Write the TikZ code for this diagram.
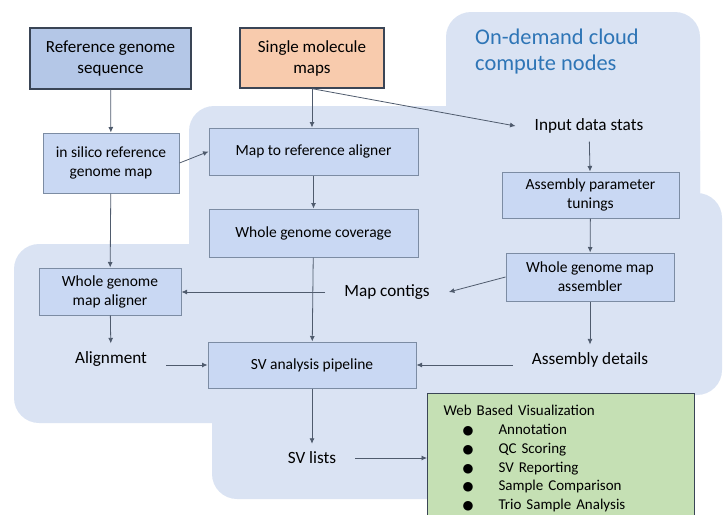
\documentclass[tikz,border=0pt]{standalone}
\usepackage{fontspec}
\setmainfont{Carlito}
\newfontfamily\dotfont{DejaVu Sans}
\usetikzlibrary{arrows.meta}
\definecolor{cloudbg}{HTML}{DAE3F3}
\definecolor{boxfill}{HTML}{C9D8F3}
\definecolor{boxline}{HTML}{7C8CA3}
\definecolor{topfill}{HTML}{B4C7E7}
\definecolor{topline}{HTML}{3A4556}
\definecolor{smmfill}{HTML}{F8CBAD}
\definecolor{vizfill}{HTML}{C5E0B4}
\definecolor{arrowcol}{HTML}{4F5B6D}
\definecolor{cloudtext}{HTML}{2E75B6}
\newcommand{\vizitem}[1]{\makebox[30pt][r]{{\dotfont\fontsize{12.5}{15}\selectfont ●}}\hspace{25pt}#1}
\begin{document}
\begin{tikzpicture}[x=1pt, y=-1pt,
    box/.style={draw=boxline, fill=boxfill, line width=1pt, align=center,
        inner sep=0pt, font=\fontsize{15.5}{19}\selectfont},
    topbox/.style={box, draw=topline, fill=topfill, line width=1.3pt, font=\fontsize{17}{21}\selectfont},
    lbl/.style={font=\fontsize{17.2}{20}\selectfont, inner xsep=19pt, inner ysep=8pt},
    arr/.style={draw=arrowcol, line width=0.8pt, -{Latex[length=5.5pt,width=5pt]}}]
    \clip (0,0) rectangle (727,514);

    % cloud area
    \fill[cloudbg, rounded corners=25pt] (446,12) rectangle (700,300);
    \fill[cloudbg, rounded corners=25pt] (189,106) rectangle (700,300);
    \fill[cloudbg, rounded corners=25pt] (300,193) rectangle (722,395);
    \fill[cloudbg, rounded corners=25pt] (14,244) rectangle (600,423);
    \fill[cloudbg, rounded corners=25pt] (212,300) rectangle (600,499);
    \node[anchor=north west, align=left, text=cloudtext, inner sep=0pt,
        font=\fontsize{22.4}{26}\selectfont] (cloud) at (475,29) {On-demand cloud\\compute nodes};

    % inputs
    \node[topbox, minimum width=161pt, minimum height=61pt] (refseq) at (110.5,58.5) {Reference genome\\sequence};
    \node[topbox, fill=smmfill, minimum width=144pt, minimum height=60pt] (smm) at (312,58) {Single molecule\\maps};

    % boxes
    \node[box, minimum width=136pt, minimum height=60pt] (insilico) at (111,163) {in silico reference\\genome map};
    \node[box, minimum width=209pt, minimum height=47pt] (mapref) at (313.5,151.5) {Map to reference aligner};
    \node[box, minimum width=209pt, minimum height=48pt] (wgc) at (313.5,233) {Whole genome coverage};
    \node[box, minimum width=177pt, minimum height=46pt] (apt) at (590.5,195) {Assembly parameter\\tunings};
    \node[box, minimum width=142pt, minimum height=47pt] (wgmal) at (110,291.5) {Whole genome\\map aligner};
    \node[box, minimum width=168pt, minimum height=48pt] (wgmas) at (590,277) {Whole genome map\\assembler};
    \node[box, minimum width=208pt, minimum height=46pt] (svp) at (312,365) {SV analysis pipeline};

    % labels
    \node[lbl] (stats) at (589,126) {Input data stats};
    \node[lbl] (contigs) at (387,292) {Map contigs};
    \node[lbl] (align) at (111,359) {Alignment};
    \node[lbl] (asmdet) at (590,360) {Assembly details};
    \node[lbl] (svlists) at (312,458) {SV lists};

    % visualization
    \node[draw=topline, fill=vizfill, line width=1pt, anchor=north west, align=left,
        text width=235pt, inner xsep=16pt, inner ysep=12pt,
        font=\fontsize{15}{18.7}\selectfont] (viz) at (427,393)
        {Web Based Visualization\\
         \vizitem{Annotation}\\
         \vizitem{QC Scoring}\\
         \vizitem{SV Reporting}\\
         \vizitem{Sample Comparison}\\
         \vizitem{Trio Sample Analysis}\\
         \strut};

    % arrows
    \draw[arr] (refseq) -- (insilico);
    \draw[arr] (insilico.east) -- (mapref.west);
    \draw[arr] (smm.south) -- (smm.south |- mapref.north);
    \draw[arr] (smm.south) -- (stats.west);
    \draw[arr] (mapref) -- (wgc);
    \draw[arr] (stats) -- (apt);
    \draw[arr] (apt) -- (wgmas);
    \draw[arr] (insilico) -- (wgmal);
    \draw[arr] (wgc) -- (svp);
    \draw[arr] (contigs.west) -- (contigs.west -| wgmal.east);
    \draw[arr] (wgmas.west) -- (contigs.east);
    \draw[arr] (wgmal) -- (align);
    \draw[arr] (align.east |- svp.west) -- (svp.west);
    \draw[arr] (wgmas) -- (asmdet);
    \draw[arr] (asmdet.west |- svp.east) -- (svp.east);
    \draw[arr] (svp) -- (svlists);
    \draw[arr] (svlists.east) -- (svlists.east -| viz.west);
\end{tikzpicture}
\end{document}
